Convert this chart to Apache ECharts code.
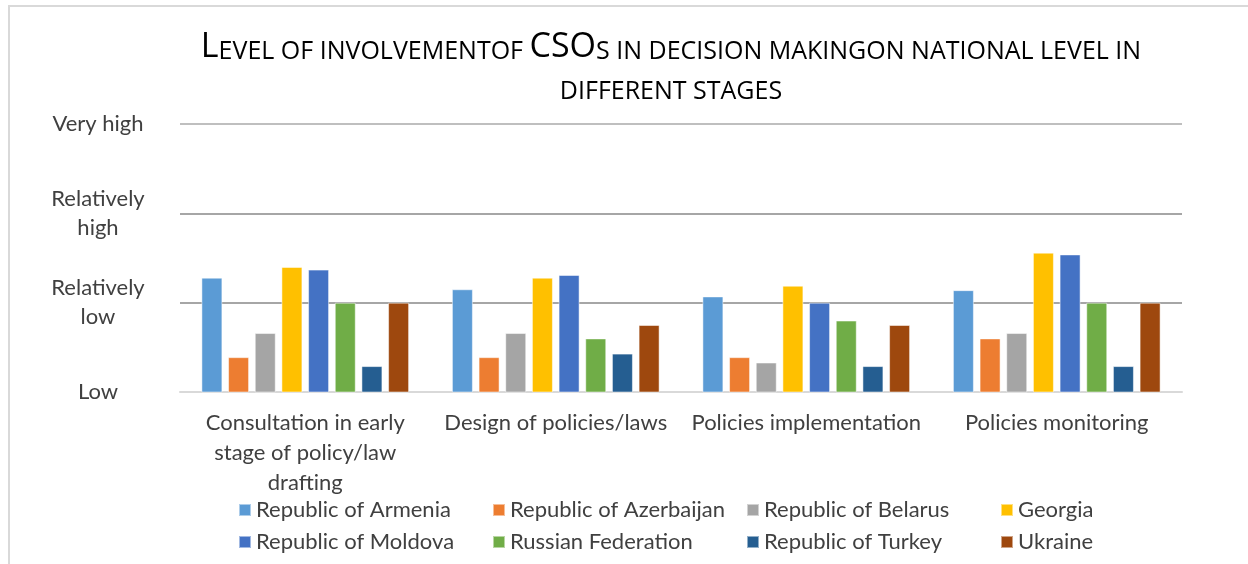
<!DOCTYPE html>
<html>
<head>
<meta charset="utf-8">
<script src="https://cdn.jsdelivr.net/npm/echarts@6/dist/echarts.min.js"></script>
<style>
  html, body { margin: 0; padding: 0; background: #fff; }
  #main-chart { width: 1248px; height: 564px; }
</style>
</head>
<body>
<div id="main-chart"></div>
<script>
// data (1 = Low ... 4 = Very high)
const stages = [
    'Consultation in early\nstage of policy/law\ndrafting',
    'Design of policies/laws',
    'Policies implementation',
    'Policies monitoring'
];
const levelLabels = ['Low', 'Relatively\nlow', 'Relatively\nhigh', 'Very high'];
const countries = [
    'Republic of Armenia', 'Republic of Azerbaijan', 'Republic of Belarus', 'Georgia',
    'Republic of Moldova', 'Russian Federation', 'Republic of Turkey', 'Ukraine'
];
const armenia    = [2.28, 2.15, 2.07, 2.14];
const azerbaijan = [1.39, 1.39, 1.39, 1.60];
const belarus    = [1.66, 1.66, 1.33, 1.66];
const georgia    = [2.40, 2.28, 2.19, 2.56];
const moldova    = [2.37, 2.31, 2.00, 2.54];
const russia     = [2.00, 1.60, 1.80, 2.00];
const turkey     = [1.29, 1.43, 1.29, 1.29];
const ukraine    = [2.00, 1.75, 1.75, 2.00];
const seriesValues = [armenia, azerbaijan, belarus, georgia, moldova, russia, turkey, ukraine];
const colors = ['#5B9BD5', '#ED7D31', '#A5A5A5', '#FFC000', '#4472C4', '#70AD47', '#255E91', '#9E480E'];

const textColor = '#404040';
const fontName = 'Lato';

const chart = echarts.init(document.getElementById('main-chart'));

const legendBase = {
    left: 238,
    width: 1040,
    padding: 0,
    orient: 'horizontal',
    icon: 'rect',
    itemWidth: 12,
    itemHeight: 12,
    itemGap: 0,
    textStyle: { color: textColor, fontFamily: fontName, fontSize: 22, width: 236, lineHeight: 22 }
};

const option = {
    backgroundColor: '#fff',
    color: colors,
    animation: false,
    graphic: [
        {
            type: 'rect',
            shape: { x: 9, y: 6, width: 1260, height: 600 },
            style: { fill: 'none', stroke: '#d9d9d9', lineWidth: 2 },
            silent: true
        },
        {
            type: 'text',
            x: 671,
            y: 24,
            style: {
                text: '{b|L}{s|EVEL OF INVOLVEMENTOF }{b|CSO}{s|S IN DECISION MAKINGON NATIONAL LEVEL IN}\n{s|DIFFERENT STAGES}',
                align: 'center',
                verticalAlign: 'top',
                rich: {
                    b: { fontFamily: 'Open Sans', fontSize: 34, color: '#595959', lineHeight: 40, verticalAlign: 'bottom' },
                    s: { fontFamily: 'Open Sans', fontSize: 25, color: '#595959', lineHeight: 40, verticalAlign: 'bottom' }
                }
            }
        }
    ],
    legend: [
        Object.assign({}, legendBase, { top: 499, data: countries.slice(0, 4) }),
        Object.assign({}, legendBase, { top: 531, data: countries.slice(4) })
    ],
    grid: { left: 180, right: 66, top: 124, bottom: 172, containLabel: false },
    xAxis: {
        type: 'category',
        data: stages,
        axisTick: { show: false },
        axisLine: { lineStyle: { color: '#d9d9d9', width: 2 } },
        axisLabel: {
            color: textColor,
            fontFamily: fontName,
            fontSize: 22,
            lineHeight: 30,
            margin: 16,
            interval: 0
        }
    },
    yAxis: {
        type: 'value',
        min: 1,
        max: 4,
        interval: 1,
        axisLine: { show: false },
        axisTick: { show: false },
        splitLine: { lineStyle: { color: ['#d9d9d9', '#a6a6a6', '#a6a6a6', '#bfbfbf'], width: 2 } },
        axisLabel: {
            color: textColor,
            fontFamily: fontName,
            fontSize: 22,
            lineHeight: 29,
            align: 'center',
            margin: 82,
            formatter: (v) => levelLabels[Math.round(v) - 1]
        }
    },
    series: countries.map((name, i) => ({
        name: name,
        type: 'bar',
        data: seriesValues[i],
        barWidth: 21,
        barGap: '27%',
        itemStyle: { borderColor: 'rgba(255,255,255,0.5)', borderWidth: 1 }
    }))
};

chart.setOption(option);
</script>
</body>
</html>
